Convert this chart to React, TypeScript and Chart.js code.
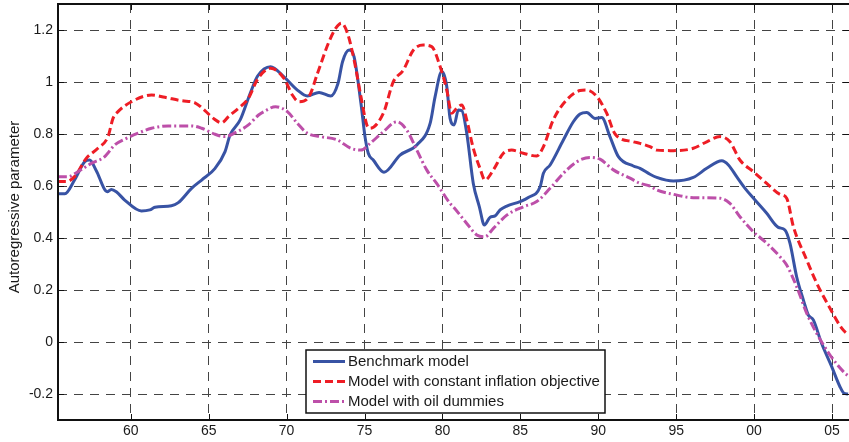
import React, { useEffect, useRef } from "react";
import { Chart, registerables } from "chart.js";

Chart.register(...registerables);

// ---- Data -----------------------------------------------------------------
const benchmarkYears = [
  1955.32, 1955.77, 1956.39, 1957.04, 1957.36, 1957.78, 1958.49, 1958.75, 1959.07, 1959.61,
  1960.68, 1961.22, 1961.55, 1962.61, 1963.05, 1963.9, 1964.55, 1965.41, 1966.05, 1966.37,
  1967.02, 1967.66, 1968.13, 1968.97, 1969.83, 1970.69, 1971.33, 1972.08, 1972.83, 1973.3,
  1973.59, 1974.01, 1974.33, 1974.77, 1975.03, 1975.24, 1975.56, 1976.25, 1977.28, 1978.36,
  1979.21, 1979.53, 1979.96, 1980.28, 1980.49, 1980.75, 1981.02, 1981.24, 1981.56, 1981.98,
  1982.37, 1982.69, 1983.06, 1983.38, 1983.7, 1984.13, 1984.98, 1985.51, 1986.27, 1986.48,
  1986.91, 1987.76, 1988.4, 1988.83, 1989.26, 1989.8, 1990.22, 1990.75, 1991.29, 1992.25,
  1992.68, 1993.32, 1993.75, 1994.82, 1996.1, 1996.96, 1997.93, 1998.35, 1998.88, 1999.42,
  2000.06, 2000.81, 2001.55, 2001.98, 2002.3, 2002.73, 2003.16, 2003.48, 2003.8, 2004.33,
  2004.98, 2005.51, 2005.77, 2006.03,
];
const benchmarkValues = [
  0.57, 0.57, 0.623, 0.693, 0.7, 0.66, 0.578, 0.587, 0.578, 0.546,
  0.504, 0.508, 0.518, 0.524, 0.536, 0.591, 0.623, 0.668, 0.732, 0.796,
  0.854, 0.956, 1.022, 1.059, 1.02, 0.969, 0.946, 0.96, 0.946, 0.995,
  1.078, 1.123, 1.097, 0.918, 0.79, 0.726, 0.7, 0.653, 0.719, 0.758,
  0.841, 0.944, 1.04, 0.982, 0.86, 0.835, 0.892, 0.89, 0.803, 0.61,
  0.52, 0.45, 0.48, 0.485, 0.508, 0.523, 0.54, 0.556, 0.597, 0.649,
  0.681, 0.777, 0.847, 0.877, 0.883, 0.86, 0.863, 0.79, 0.713, 0.677,
  0.668, 0.645, 0.633, 0.619, 0.633, 0.668, 0.697, 0.681, 0.636, 0.591,
  0.546, 0.495, 0.441, 0.431, 0.38, 0.251, 0.162, 0.104, 0.085, -0.005,
  -0.095, -0.172, -0.197, -0.2,
];

const constantYears = [
  1955.32, 1955.85, 1956.39, 1957.14, 1957.89, 1958.54, 1958.86, 1959.18, 1960.04, 1961.33,
  1962.19, 1963.26, 1964.12, 1964.76, 1965.3, 1965.83, 1966.27, 1966.91, 1967.55, 1968.13,
  1968.97, 1969.83, 1970.37, 1970.79, 1971.44, 1971.98, 1972.72, 1973.16, 1973.52, 1973.91,
  1974.33, 1974.77, 1975.15, 1975.36, 1976.21, 1976.85, 1977.49, 1978.14, 1978.77, 1979.31,
  1979.85, 1980.28, 1980.6, 1980.92, 1981.24, 1981.56, 1981.98, 1982.41, 1982.73, 1983.27,
  1983.91, 1984.44, 1985.19, 1986.05, 1986.48, 1987.11, 1987.97, 1988.83, 1989.26, 1989.91,
  1990.54, 1991.08, 1992.25, 1992.68, 1993.32, 1993.75, 1994.82, 1996.1, 1996.96, 1997.82,
  1998.45, 1999.09, 1999.95, 2000.81, 2001.66, 2002.09, 2002.52, 2003.38, 2004.02, 2004.87,
  2005.62, 2006.05,
];
const constantValues = [
  0.617, 0.617, 0.636, 0.706, 0.745, 0.79, 0.86, 0.886, 0.924, 0.95,
  0.941, 0.928, 0.92, 0.89, 0.86, 0.843, 0.867, 0.899, 0.937, 1.01,
  1.053, 1.014, 0.95, 0.924, 0.944, 1.033, 1.155, 1.207, 1.226, 1.187,
  1.085, 0.944, 0.835, 0.822, 0.88, 1.001, 1.046, 1.123, 1.142, 1.136,
  1.06, 0.969, 0.88, 0.899, 0.912, 0.854, 0.745, 0.668, 0.623, 0.662,
  0.726, 0.738, 0.726, 0.715, 0.751, 0.854, 0.931, 0.967, 0.969, 0.944,
  0.88, 0.8, 0.77, 0.764, 0.751, 0.738, 0.736, 0.745, 0.77, 0.79,
  0.77, 0.7, 0.655, 0.61, 0.568, 0.553, 0.444, 0.315, 0.226, 0.13,
  0.053, 0.027,
];

const oilYears = [
  1955.32, 1955.96, 1956.61, 1957.46, 1958.33, 1958.97, 1959.61, 1960.47, 1961.33, 1962.4,
  1963.9, 1964.55, 1965.41, 1966.05, 1966.7, 1967.55, 1968.2, 1968.54, 1969.29, 1970.05,
  1970.69, 1971.33, 1972.19, 1973.26, 1974.12, 1974.77, 1975.36, 1976.21, 1977.07, 1977.71,
  1978.36, 1978.99, 1979.63, 1980.49, 1980.7, 1981.56, 1982.2, 1982.73, 1983.27, 1984.13,
  1985.19, 1986.05, 1986.91, 1987.76, 1988.62, 1989.48, 1990.11, 1990.97, 1992.04, 1992.68,
  1993.32, 1993.75, 1994.82, 1996.1, 1997.82, 1998.45, 1999.09, 1999.95, 2000.81, 2001.66,
  2002.09, 2002.73, 2003.38, 2004.02, 2004.87, 2005.73, 2006.03,
];
const oilValues = [
  0.636, 0.636, 0.655, 0.687, 0.713, 0.758, 0.78, 0.803, 0.822, 0.831,
  0.831, 0.822, 0.799, 0.79, 0.805, 0.835, 0.873, 0.886, 0.905, 0.886,
  0.841, 0.803, 0.79, 0.777, 0.745, 0.738, 0.764, 0.809, 0.847, 0.815,
  0.738, 0.662, 0.61, 0.533, 0.52, 0.456, 0.412, 0.405, 0.437, 0.488,
  0.52, 0.54, 0.591, 0.649, 0.693, 0.71, 0.703, 0.662, 0.63, 0.61,
  0.6, 0.585, 0.568, 0.555, 0.553, 0.533, 0.482, 0.424, 0.38, 0.328,
  0.296, 0.213, 0.11, 0.033, -0.05, -0.114, -0.13,
];

const seriesLabels = [
  "Benchmark model",
  "Model with constant inflation objective",
  "Model with oil dummies",
];

const xTickValues = [1960, 1965, 1970, 1975, 1980, 1985, 1990, 1995, 2000, 2005];
const xTickLabels = ["60", "65", "70", "75", "80", "85", "90", "95", "00", "05"];
const yTickValues = [-0.2, 0, 0.2, 0.4, 0.6, 0.8, 1, 1.2];
const yTickLabels = ["-0.2", "0", "0.2", "0.4", "0.6", "0.8", "1", "1.2"];
const yAxisTitle = "Autoregressive parameter";

// ---- Styling ----------------------------------------------------------------
const FONT = "'Liberation Sans', Arial, Helvetica, sans-serif";
const TEXT = "#1a1a1a";
const BLUE = "#3853a4";
const RED = "#ee1d25";
const PURPLE = "#bd4fa9";

const toPoints = (xs: number[], ys: number[]) => xs.map((x, i) => ({ x, y: ys[i] }));

const framePlugin = {
  id: "matlabFrame",
  afterDatasetsDraw(chart: any) {
    const { ctx, chartArea, scales } = chart;
    const { left, right, top, bottom } = chartArea;
    ctx.save();
    ctx.setLineDash([]);
    // inner ticks
    ctx.strokeStyle = "#111";
    ctx.lineWidth = 1;
    ctx.beginPath();
    scales.x.ticks.forEach((t: any) => {
      const px = Math.round(scales.x.getPixelForValue(t.value)) + 0.5;
      ctx.moveTo(px, bottom);
      ctx.lineTo(px, bottom - 6);
      ctx.moveTo(px, top);
      ctx.lineTo(px, top + 6);
    });
    scales.y.ticks.forEach((t: any) => {
      const py = Math.round(scales.y.getPixelForValue(t.value)) + 0.5;
      ctx.moveTo(left, py);
      ctx.lineTo(left + 6, py);
      ctx.moveTo(right, py);
      ctx.lineTo(right - 6, py);
    });
    ctx.stroke();
    // frame (left, top, bottom)
    ctx.strokeStyle = "#111";
    ctx.lineWidth = 2;
    ctx.beginPath();
    ctx.moveTo(right + 2, top);
    ctx.lineTo(left, top);
    ctx.lineTo(left, bottom);
    ctx.lineTo(right + 2, bottom);
    ctx.stroke();

    // y axis title
    ctx.save();
    ctx.translate(14.5, 207);
    ctx.rotate(-Math.PI / 2);
    ctx.font = `15px ${FONT}`;
    ctx.fillStyle = TEXT;
    ctx.textAlign = "center";
    ctx.textBaseline = "middle";
    ctx.fillText(yAxisTitle, 0, 0);
    ctx.restore();

    // legend box
    const bx = 306, by = 350, bw = 299, bh = 63;
    ctx.fillStyle = "#fff";
    ctx.fillRect(bx, by, bw, bh);
    ctx.strokeStyle = "#111";
    ctx.lineWidth = 1.5;
    ctx.strokeRect(bx, by, bw, bh);
    ctx.font = `15px ${FONT}`;
    ctx.textBaseline = "middle";
    ctx.textAlign = "left";
    chart.data.datasets.forEach((ds: any, i: number) => {
      const ry = by + 11.5 + i * 20;
      ctx.save();
      ctx.strokeStyle = ds.borderColor;
      ctx.lineWidth = 3;
      ctx.setLineDash(ds.borderDash || []);
      ctx.beginPath();
      ctx.moveTo(bx + 7, ry);
      ctx.lineTo(bx + 39, ry);
      ctx.stroke();
      ctx.restore();
      ctx.fillStyle = TEXT;
      ctx.fillText(ds.label, bx + 42, ry + 0.5);
    });
    ctx.restore();
  },
};

export default function App() {
  const ref = useRef<HTMLCanvasElement>(null);

  useEffect(() => {
    if (!ref.current) return;
    const chart = new Chart(ref.current, {
      type: "line",
      data: {
        datasets: [
          {
            label: seriesLabels[0],
            data: toPoints(benchmarkYears, benchmarkValues),
            borderColor: BLUE,
            borderWidth: 3,
            pointRadius: 0,
            cubicInterpolationMode: "monotone",
            order: 2,
          },
          {
            label: seriesLabels[1],
            data: toPoints(constantYears, constantValues),
            borderColor: RED,
            borderWidth: 3,
            borderDash: [8, 4],
            pointRadius: 0,
            cubicInterpolationMode: "monotone",
            order: 1,
          },
          {
            label: seriesLabels[2],
            data: toPoints(oilYears, oilValues),
            borderColor: PURPLE,
            borderWidth: 3,
            borderDash: [9, 3, 2, 3],
            pointRadius: 0,
            cubicInterpolationMode: "monotone",
            order: 0,
          },
        ],
      } as any,
      options: {
        responsive: false,
        animation: false,
        devicePixelRatio: 1,
        layout: { padding: { top: 4, right: 0, left: 0, bottom: 0 } },
        plugins: {
          legend: { display: false },
          tooltip: { enabled: false },
        },
        scales: {
          x: {
            type: "linear",
            min: 1955.33,
            max: 2006.09,
            afterBuildTicks: (scale: any) => {
              scale.ticks = xTickValues.map((v) => ({ value: v }));
            },
            afterFit: (scale: any) => {
              scale.height = 22;
              scale.paddingLeft = 0;
              scale.paddingRight = 0;
            },
            ticks: {
              autoSkip: false,
              maxRotation: 0,
              padding: 3,
              color: TEXT,
              font: { family: FONT, size: 14 },
              callback: (_v: any, i: number) => xTickLabels[i],
            },
            grid: { color: "#444", lineWidth: 1, drawTicks: false },
            border: { display: false, dash: [9, 7] },
          },
          y: {
            type: "linear",
            min: -0.3,
            max: 1.3,
            afterBuildTicks: (scale: any) => {
              scale.ticks = yTickValues.map((v) => ({ value: v }));
            },
            afterFit: (scale: any) => {
              scale.width = 58;
              scale.paddingTop = 0;
              scale.paddingBottom = 0;
            },
            ticks: {
              padding: 5,
              color: TEXT,
              font: { family: FONT, size: 14 },
              callback: (_v: any, i: number) => yTickLabels[i],
            },
            grid: { color: "#444", lineWidth: 1, drawTicks: false },
            border: { display: false, dash: [9, 7] },
          },
        },
      } as any,
      plugins: [framePlugin],
    });
    return () => chart.destroy();
  }, []);

  return (
    <div style={{ position: "absolute", left: 0, top: 0, width: 849, height: 442, background: "#fff" }}>
      <canvas ref={ref} width={849} height={442} style={{ display: "block", width: 849, height: 442 }} />
    </div>
  );
}
